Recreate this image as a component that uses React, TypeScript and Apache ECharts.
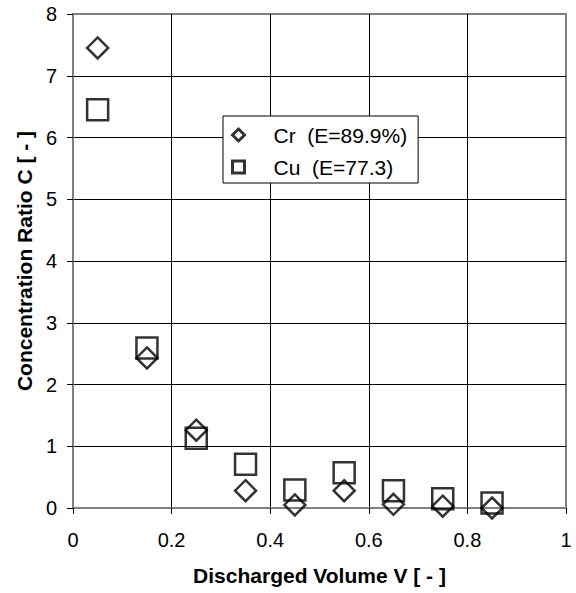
import React, { useEffect, useRef } from "react";
import * as echarts from "echarts";

const xValues = [0.05, 0.15, 0.25, 0.35, 0.45, 0.55, 0.65, 0.75, 0.85];
const crValues = [7.45, 2.43, 1.26, 0.28, 0.05, 0.28, 0.06, 0.03, 0.0];
const cuValues = [6.45, 2.59, 1.13, 0.71, 0.29, 0.57, 0.28, 0.15, 0.08];
const seriesNames = ["Cr  (E=89.9%)", "Cu  (E=77.3)"];
const xTitle = "Discharged Volume V [ - ]";
const yTitle = "Concentration Ratio C [ - ]";

const FONT = 'Arial, "Liberation Sans", sans-serif';

export default function App() {
  const ref = useRef<HTMLDivElement>(null);
  useEffect(() => {
    if (!ref.current) return;
    const chart = echarts.init(ref.current, undefined, { renderer: "svg" });
    const pts = (ys: number[]) => xValues.map((x, i) => [x, ys[i]]);
    const markStyle = {
      color: "transparent",
      borderColor: "#000",
      borderWidth: 2.5,
    };
    chart.setOption({
      animation: false,
      backgroundColor: "#fff",
      grid: {
        left: 73,
        right: 10,
        top: 14,
        bottom: 85,
        show: true,
        borderColor: "#808080",
        borderWidth: 2,
        backgroundColor: "transparent",
      },
      xAxis: {
        type: "value",
        min: 0,
        max: 1,
        interval: 0.2,
        name: xTitle,
        nameLocation: "middle",
        nameGap: 57,
        nameTextStyle: { fontFamily: FONT, fontSize: 21, fontWeight: "bold", color: "#000" },
        axisLine: { show: true, lineStyle: { color: "#808080", width: 2 } },
        axisTick: { show: true, inside: false, length: 6, lineStyle: { color: "#000", width: 1 } },
        axisLabel: { fontFamily: FONT, fontSize: 20, color: "#000", margin: 22 },
        splitLine: { show: true, showMinLine: false, showMaxLine: false, lineStyle: { color: "#000", width: 1 } },
      },
      yAxis: {
        type: "value",
        min: 0,
        max: 8,
        interval: 1,
        name: yTitle,
        nameLocation: "middle",
        nameGap: 38,
        nameTextStyle: { fontFamily: FONT, fontSize: 21, fontWeight: "bold", color: "#000" },
        axisLine: { show: true, lineStyle: { color: "#808080", width: 2 } },
        axisTick: { show: true, inside: false, length: 6, lineStyle: { color: "#000", width: 1 } },
        axisLabel: { fontFamily: FONT, fontSize: 20, color: "#000", margin: 16 },
        splitLine: { show: true, showMinLine: false, showMaxLine: false, lineStyle: { color: "#000", width: 1 } },
      },
      legend: {
        orient: "vertical",
        left: 223,
        top: 116,
        padding: [7, 11, 4, 8],
        itemGap: 8,
        itemWidth: 12,
        itemHeight: 12,
        backgroundColor: "#fff",
        borderColor: "#000",
        borderWidth: 1,
        borderRadius: 0,
        selectedMode: false,
        itemStyle: { color: "transparent", borderColor: "#000", borderWidth: 3 },
        textStyle: {
          fontFamily: FONT,
          fontSize: 21,
          color: "#000",
          lineHeight: 24,
          padding: [0, 0, 0, 24],
        },
        data: seriesNames,
      },
      series: [
        {
          name: seriesNames[0],
          type: "scatter",
          symbol: "diamond",
          symbolSize: 21,
          itemStyle: markStyle,
          data: pts(crValues),
          z: 3,
        },
        {
          name: seriesNames[1],
          type: "scatter",
          symbol: "rect",
          symbolSize: 21,
          itemStyle: markStyle,
          data: pts(cuValues),
          z: 3,
        },
      ],
    });
    return () => chart.dispose();
  }, []);
  return (
    <div
      ref={ref}
      style={{ position: "absolute", left: 0, top: 0, width: 576, height: 593 }}
    />
  );
}
